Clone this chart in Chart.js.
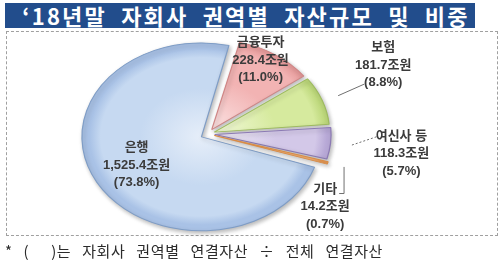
<!DOCTYPE html>
<html>
<head>
<meta charset="utf-8">
<script src="https://cdn.jsdelivr.net/npm/chart.js@4.4.1/dist/chart.umd.min.js"></script>
<style>
  html, body { margin:0; padding:0; background:#fff; width:500px; height:266px; overflow:hidden; }
  #title { position:absolute; left:5px; top:3px; width:470px; height:25px; background:#224D8C;
           color:#fff; font:bold 22px "Noto Sans CJK KR", sans-serif; line-height:25px; text-align:center;
           letter-spacing:2.2px; word-spacing:7px; box-sizing:border-box; padding-left:12px; white-space:nowrap; }
  #frame { position:absolute; left:6px; top:31px; width:490px; height:203px; border:1px dashed #a0a0a0; }
  #note { position:absolute; left:5px; top:242px; font:15px "Noto Sans CJK KR", sans-serif; color:#2b2b2b;
          letter-spacing:0.6px; word-spacing:7px; line-height:18px; white-space:nowrap; }
  #c { position:absolute; left:0; top:0; }
</style>
</head>
<body>
<div id="title">‘18년말 자회사 권역별 자산규모 및 비중</div>
<div id="frame"></div>
<canvas id="c" width="500" height="266"></canvas>
<div id="note">* (&nbsp;&nbsp;)는 자회사 권역별 연결자산 ÷ 전체 연결자산</div>
<script>
// ---- data ----
const categories = ['은행', '금융투자', '보험', '여신사 등', '기타'];
const assets = [1525.4, 228.4, 181.7, 118.3, 14.2];   // 조원
const shares = [73.8, 11.0, 8.8, 5.7, 0.7];            // %
const unit = '조원';

// ---- styles ----
const baseColors  = ['#C6D9F1', '#F2B3B3', '#D6EA9E', '#D3C8E8', '#F4B57A'];
const innerColors = ['#E6EEF9', '#FBE2E2', '#F2F9DA', '#F1EDF8', '#FAD9B6'];
const rimColors   = ['#A9C2E6', '#E59A9A', '#BCD77A', '#B7A8D6', '#E89A55'];
const borderColors= ['#7F9DC6', '#CF8585', '#9DBB5E', '#8C7AB4', '#D98B45'];
const K = 0.786; // vertical squash of the pie (perspective look)

// label placement relative to each slice (radial factor of radius, angle tweak in degrees)
const labelLayout = [
  { r: 0.46, da: 0 },
  { r: 0.72, da: -6 },
  { r: 1.51, da: -7,  leader: { kind: 'solid',  lr: 1.0,  end: [-19, 19] } },
  { r: 1.50, da: 2,   leader: { kind: 'dashed', lr: 1.05, end: [-24, -17] } },
  { r: 1.11, da: 25.6, leader: { kind: 'elbow', lr: 1.03, end: [14, -13] } }
];

function fmt(v) {
  return v.toLocaleString('en-US', { minimumFractionDigits: 1, maximumFractionDigits: 1 });
}

const ellipsePlugin = {
  id: 'ellipse',
  beforeDatasetsDraw(chart) {
    const a = chart.chartArea, cy = (a.top + a.bottom) / 2, c = chart.ctx;
    c.save();
    c.translate(0, cy); c.scale(1, K); c.translate(0, -cy);
    c.shadowColor = 'rgba(0,0,0,0.28)';
    c.shadowBlur = 4; c.shadowOffsetX = 1.5; c.shadowOffsetY = 2;
  },
  afterDatasetsDraw(chart) { chart.ctx.restore(); }
};

const labelPlugin = {
  id: 'sliceLabels',
  afterDraw(chart) {
    const ctx = chart.ctx, a = chart.chartArea, cy = (a.top + a.bottom) / 2;
    const meta = chart.getDatasetMeta(0);
    const toPage = (x, y) => [x, cy + (y - cy) * K];
    ctx.save();
    meta.data.forEach((arc, i) => {
      const p = arc.getProps(['x', 'y', 'startAngle', 'endAngle', 'outerRadius'], true);
      const mid = (p.startAngle + p.endAngle) / 2;
      const off = arc.options.offset || 0;
      const vx = p.x + Math.cos(mid) * off, vy = p.y + Math.sin(mid) * off;
      const L = labelLayout[i];
      const ang = mid + L.da * Math.PI / 180;
      const [ax, ay] = toPage(vx + Math.cos(ang) * L.r * p.outerRadius, vy + Math.sin(ang) * L.r * p.outerRadius);
      if (L.leader) {
        const ld = L.leader;
        const [sx, sy] = toPage(vx + Math.cos(mid) * ld.lr * p.outerRadius, vy + Math.sin(mid) * ld.lr * p.outerRadius);
        ctx.strokeStyle = '#6f6f6f'; ctx.lineWidth = 1;
        ctx.setLineDash(ld.kind === 'dashed' ? [2, 2] : []);
        ctx.beginPath();
        ctx.moveTo(sx, sy);
        const ex = ax + ld.end[0], ey = ay + ld.end[1];
        if (ld.kind === 'elbow') ctx.lineTo(sx, ey);
        ctx.lineTo(ex, ey);
        ctx.stroke();
        ctx.setLineDash([]);
      }
      ctx.fillStyle = '#3b3b3b';
      ctx.font = 'bold 13px "Liberation Sans", "Noto Sans CJK KR", sans-serif';
      ctx.textAlign = 'center'; ctx.textBaseline = 'middle';
      ctx.fillText(categories[i], ax, ay - 17.5);
      ctx.fillText(fmt(assets[i]) + unit, ax, ay);
      ctx.fillText('(' + shares[i].toFixed(1) + '%)', ax, ay + 17.5);
    });
    ctx.restore();
  }
};

function sliceFill(context) {
  const i = context.dataIndex;
  const chart = context.chart, a = chart.chartArea;
  if (!a || i === undefined) return baseColors[i || 0];
  const cx = (a.left + a.right) / 2, cy = (a.top + a.bottom) / 2;
  const R = 112;
  const g = chart.ctx.createRadialGradient(cx, cy, 0, cx, cy, R);
  g.addColorStop(0, innerColors[i]);
  g.addColorStop(0.55, baseColors[i]);
  g.addColorStop(0.9, baseColors[i]);
  g.addColorStop(1, rimColors[i]);
  return g;
}

new Chart(document.getElementById('c'), {
  type: 'pie',
  data: {
    labels: categories,
    datasets: [{
      data: assets,
      backgroundColor: sliceFill,
      borderColor: borderColors,
      borderWidth: 1.2,
      offset: [30, 27, 27, 27, 27],
      clip: false
    }]
  },
  options: {
    responsive: false,
    maintainAspectRatio: false,
    devicePixelRatio: 1,
    animation: false,
    rotation: 108.35,
    radius: 112,
    layout: { padding: { left: 0, right: 84, top: 2, bottom: 0 } },
    plugins: { legend: { display: false }, tooltip: { enabled: false } },
    events: []
  },
  plugins: [ellipsePlugin, labelPlugin]
});
</script>
</body>
</html>
